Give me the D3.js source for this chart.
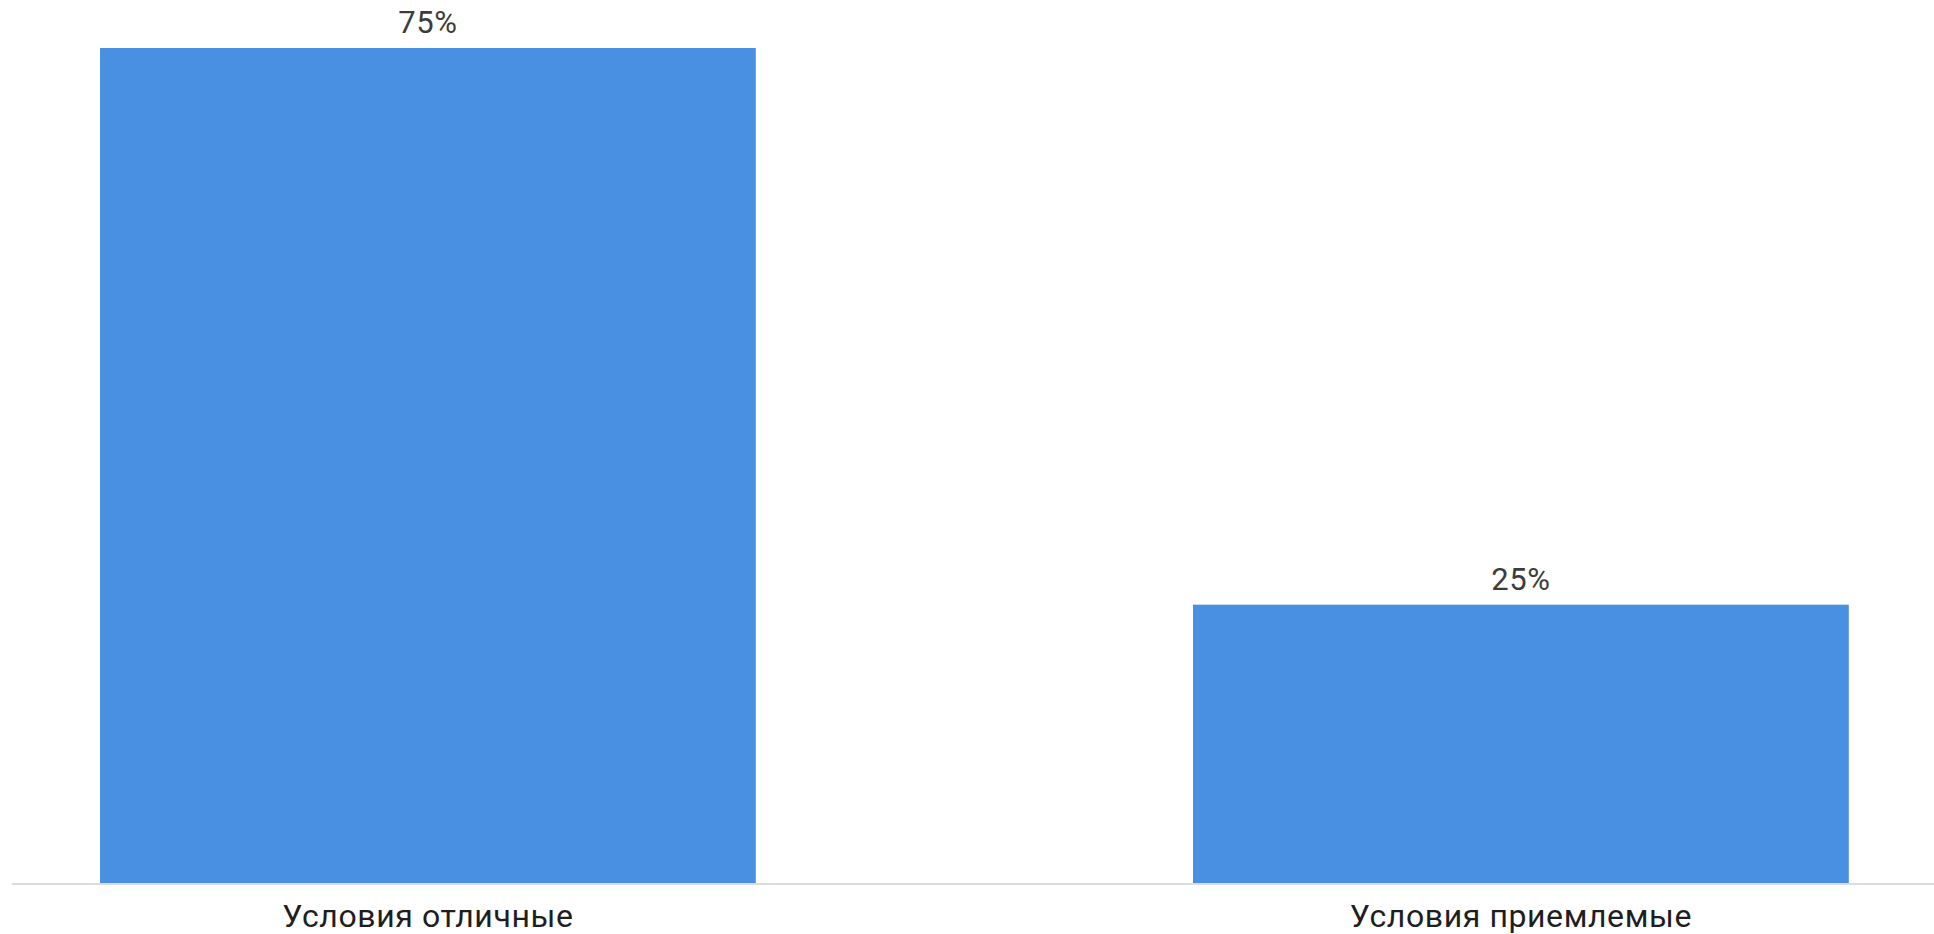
<!DOCTYPE html>
<html><head><meta charset="utf-8">
<script src="https://cdn.jsdelivr.net/npm/d3@7"></script>
<style>html,body{margin:0;padding:0;background:#fff;overflow:hidden}</style>
</head><body>
<svg id="chart" width="1934" height="934"></svg>
<script>
const categories = ["Условия отличные", "Условия приемлемые"];
const values = [75, 25];
const valueLabels = ["75%", "25%"];

const svg = d3.select("#chart");
const W = 1934, H = 934;
const baseY = 883;

const x = d3.scaleBand().domain(categories).range([-118.6, 2067.4]).paddingInner(0.4).paddingOuter(0.2);
const y = d3.scaleLinear().domain([0, 75]).range([baseY, 48]);

svg.append("rect").attr("width", W).attr("height", H).attr("fill", "#fff");

svg.selectAll("rect.bar").data(values).join("rect").attr("class", "bar")
  .attr("x", (d, i) => x(categories[i]))
  .attr("width", x.bandwidth())
  .attr("y", d => y(d))
  .attr("height", d => baseY - y(d))
  .attr("fill", "#4a90e2");

svg.selectAll("text.val").data(values).join("text").attr("class", "val")
  .attr("x", (d, i) => x(categories[i]) + x.bandwidth() / 2)
  .attr("y", d => y(d) - 15)
  .attr("text-anchor", "middle")
  .attr("font-family", "Roboto, sans-serif")
  .attr("font-size", 31)
  .attr("letter-spacing", 0.5)
  .attr("fill", "#3c3c3c")
  .text((d, i) => valueLabels[i]);

const axis = d3.axisBottom(x).tickSize(0).tickPadding(0);
const ag = svg.append("g").attr("transform", `translate(0,${baseY})`).call(axis);
ag.select(".domain").remove();
ag.append("line").attr("x1", 12).attr("x2", W).attr("y1", 1).attr("y2", 1)
  .attr("stroke", "#dcdcdc").attr("stroke-width", 2);
ag.selectAll(".tick text")
  .attr("font-family", "Roboto, sans-serif")
  .attr("font-size", 32)
  .attr("letter-spacing", 0.6)
  .attr("fill", "#1e1e1e")
  .attr("y", 44)
  .attr("dy", null);
</script>
</body></html>
